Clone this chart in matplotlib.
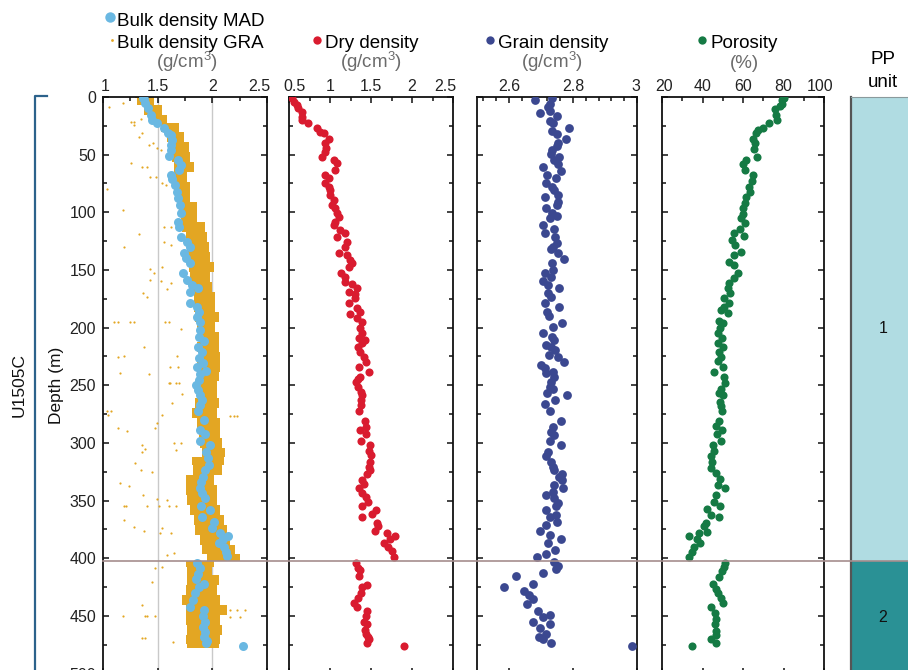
import numpy as np
import matplotlib.pyplot as plt
from matplotlib.lines import Line2D
from matplotlib.ticker import MultipleLocator, FuncFormatter
from matplotlib.transforms import blended_transform_factory, ScaledTranslation

plt.rcParams['font.family'] = ['Liberation Sans', 'DejaVu Sans']
plt.rcParams['mathtext.fontset'] = 'custom'
plt.rcParams['mathtext.rm'] = 'Liberation Sans'
plt.rcParams['mathtext.default'] = 'regular'

# bulk density, MAD (g/cm3)
mad_depth = [0.5, 2.0, 5.5, 9.8, 15.6, 19.9, 22.8, 27.2, 30.9, 33.0,
             37.3, 41.6, 46.0, 51.2, 54.6, 59.0, 63.3, 67.6, 71.4, 76.3,
             82.1, 87.9, 93.7, 100.9, 108.1, 112.5, 121.1, 125.5, 129.8, 135.0,
             139.9, 144.3, 152.4, 158.7, 163.1, 166.0, 168.8, 178.9, 181.8, 186.2,
             190.5, 194.9, 202.1, 208.4, 211.3, 216.5, 220.9, 226.7, 231.0, 234.5,
             237.3, 240.2, 245.5,
             249.7, 254.1, 258.4, 262.7, 267.1, 272.0, 280.1, 288.8, 292.2, 298.0,
             301.8, 307.6, 313.3, 319.1, 323.5, 329.2, 333.6, 339.4, 343.7, 348.0,
             354.7, 358.1, 364.5, 368.3, 374.1, 377.8, 380.7, 383.6, 387.1, 390.0,
             394.3, 398.0, 403.8, 408.7, 413.7, 418.3, 422.3, 425.2, 430.4, 436.2,
             442.0, 444.9, 450.1, 455.0, 459.3, 463.7, 468.0, 471.5, 473.8, 475.8]
mad_bulk = [1.37, 1.376, 1.382, 1.412, 1.436, 1.452, 1.497, 1.558, 1.594, 1.618,
            1.633, 1.624, 1.618, 1.603, 1.685, 1.709, 1.694, 1.624, 1.633, 1.655,
            1.673, 1.685, 1.703, 1.715, 1.685, 1.694, 1.709, 1.77, 1.8, 1.739,
            1.755, 1.8, 1.733, 1.764, 1.815, 1.867, 1.8, 1.794, 1.861, 1.876,
            1.861, 1.891, 1.885, 1.876, 1.921, 1.867, 1.906, 1.876, 1.915, 1.861,
            1.946, 1.891, 1.876,
            1.855, 1.867, 1.891, 1.906, 1.885, 1.867, 1.921, 1.885, 1.936, 1.891,
            1.976, 1.945, 1.958, 1.967, 1.936, 1.915, 1.897, 1.885, 1.906, 1.936,
            1.897, 1.982, 1.906, 2.012, 1.997, 2.073, 2.139, 2.097, 2.058, 2.103,
            2.127, 2.133, 1.861, 1.885, 1.867, 1.855, 1.921, 1.876, 1.845, 1.824,
            1.8, 1.927, 1.915, 1.936, 1.915, 1.936, 1.927, 1.952, 1.945, 2.285]

# bulk density, GRA: extent of the dense record with depth
gra_depth = [0, 2.6, 11.3, 19.9, 25.7, 34.4, 43.1, 51.7, 60.4, 69.1,
             77.8, 86.4, 95.1, 103.8, 112.5, 121.1, 129.8, 138.5, 147.2, 155.8,
             164.5, 173.2, 181.8, 190.5, 199.2, 207.9, 216.5, 225.2, 233.9, 242.6,
             249.7, 257.0, 265.6, 274.3, 283.0, 291.7, 300.3, 309.0, 314.8, 323.5,
             332.1, 340.8, 349.5, 358.1, 366.8, 375.5, 384.2, 392.8, 400.1, 404.4,
             410.2, 418.9, 427.5, 436.2, 444.9, 453.6, 462.2, 470.9, 478.0]
gra_lo = [1.29, 1.315, 1.376, 1.436, 1.527, 1.588, 1.618, 1.633, 1.649, 1.618,
          1.649, 1.679, 1.694, 1.709, 1.724, 1.755, 1.77, 1.77, 1.785, 1.8,
          1.815, 1.83, 1.83, 1.845, 1.861, 1.876, 1.861, 1.876, 1.861, 1.861,
          1.845, 1.861, 1.845, 1.815, 1.861, 1.876, 1.891, 1.906, 1.815, 1.824,
          1.755, 1.755, 1.77, 1.8, 1.83, 1.845, 1.891, 1.906, 1.952, 1.755,
          1.77, 1.77, 1.755, 1.724, 1.755, 1.755, 1.77, 1.755, 1.77]
gra_hi = [1.47, 1.467, 1.542, 1.588, 1.694, 1.739, 1.785, 1.8, 1.83, 1.77,
          1.8, 1.8, 1.861, 1.861, 1.936, 1.952, 1.967, 1.982, 2.012, 1.982,
          1.997, 2.027, 2.027, 2.058, 2.027, 2.058, 2.058, 2.073, 2.073, 2.058,
          2.042, 2.042, 2.058, 2.042, 2.073, 2.073, 2.088, 2.118, 2.103, 2.088,
          2.012, 2.042, 2.042, 2.073, 2.103, 2.133, 2.164, 2.209, 2.255, 2.012,
          1.997, 2.058, 2.042, 2.073, 2.133, 2.073, 2.088, 2.073, 2.058]
# scattered GRA readings off the main trend
gra_pt_depth = [8.4, 4.9, 21.4, 21.4, 24.3, 19.4, 31.5, 35.0, 41.6, 40.2,
                44.5, 46.0, 57.0, 60.4, 60.4, 69.7, 69.7, 79.8, 74.3, 76.3,
                98.0, 112.5, 112.5, 118.8, 125.5, 128.4, 129.8, 147.2, 149.5, 152.4,
                158.7, 159.3, 161.0, 169.7, 173.7, 166.8, 194.9, 194.9, 194.9, 194.9,
                194.9, 194.9, 201.5, 217.1, 225.8, 224.6, 224.6, 239.1, 240.2, 233.9,
                234.5, 248.3, 248.3, 272.0, 272.0, 275.8, 287.3, 289.3, 275.8, 265.1,
                257.5, 248.3, 248.3, 283.0, 287.3, 299.8, 299.8, 306.1, 301.8, 307.6,
                305.6, 317.1, 323.5, 325.5, 335.0, 337.3, 345.1, 348.9, 349.5, 354.7,
                354.7, 354.7, 354.7, 354.7, 354.7, 366.8, 372.6, 376.1, 378.4, 374.1,
                378.4, 397.2, 395.7, 408.7, 407.3, 420.3, 440.5, 450.1, 450.1, 450.1,
                450.1, 469.5, 469.5, 472.3, 444.9, 444.9, 444.9, 451.2, 451.2, 277.0,
                277.0, 277.0]
gra_pt_bulk = [1.058, 1.179, 1.255, 1.279, 1.285, 1.345, 1.361, 1.33, 1.421, 1.461,
               1.497, 1.527, 1.255, 1.361, 1.406, 1.43, 1.482, 1.036, 1.543, 1.573,
               1.179, 1.558, 1.618, 1.33, 1.558, 1.618, 1.194, 1.543, 1.43, 1.467,
               1.43, 1.527, 1.618, 1.37, 1.40, 1.588, 1.103, 1.133, 1.249, 1.285,
               1.564, 1.603, 1.715, 1.376, 1.133, 1.194, 1.679, 1.158, 1.421, 1.612,
               1.685, 1.612, 1.664, 1.036, 1.073, 1.042, 1.133, 1.218, 1.542, 1.633,
               1.724, 1.603, 1.694, 1.497, 1.473, 1.648, 1.709, 1.664, 1.36, 1.36,
               1.382, 1.294, 1.345, 1.452, 1.158, 1.24, 1.37, 1.497, 1.588, 1.194,
               1.209, 1.406, 1.512, 1.603, 1.664, 1.194, 1.285, 1.376, 1.521, 1.543,
               1.624, 1.582, 1.648, 1.473, 1.543, 1.452, 1.36, 1.382, 1.406, 1.473,
               1.179, 1.36, 1.382, 1.642, 2.164, 2.224, 2.30, 2.164, 2.255, 2.164,
               2.194, 2.224]

# dry density (g/cm3)
dry_depth = [1.0, 4.0, 6.9, 9.8, 12.7, 17.1, 19.9, 22.8, 27.2, 30.1,
             31.5, 36.7, 40.2, 44.5, 47.4, 51.7, 54.6, 57.5, 63.3, 67.6,
             70.5, 74.9, 77.8, 80.7, 85.0, 89.3, 93.7, 96.6, 100.9, 103.8,
             108.1, 111.0, 115.4, 118.2, 121.1, 125.5, 129.8, 135.0, 137.0, 141.4,
             143.7, 147.2, 152.9, 155.8, 160.2, 162.2, 166.0, 168.8, 170.9, 174.6,
             178.9, 183.3, 186.2, 188.2, 191.9, 194.9, 200.6, 205.0, 209.3, 210.8,
             213.6, 216.5, 220.9, 225.2, 229.5, 233.9, 238.2, 242.6, 244.9,
             246.8, 251.2, 255.5, 258.4, 262.7, 267.1, 272.0, 280.7, 285.9, 288.8,
             292.2, 298.0, 301.8, 306.7, 310.4, 316.2, 320.6, 323.5, 326.9, 332.1,
             335.6, 339.4, 343.7, 346.6, 350.9, 354.7, 358.1, 361.9, 364.5, 369.1,
             372.0, 376.1, 377.8, 380.4, 383.6, 387.1, 390.0, 393.4, 398.6, 403.8,
             408.7, 410.2, 415.4, 422.9, 424.6, 429.8, 434.8, 439.1, 442.6, 445.5,
             450.1, 455.0, 457.0, 462.2, 465.7, 468.0, 470.3, 473.8, 475.8]
dry_dens = [0.54, 0.566, 0.594, 0.615, 0.655, 0.664, 0.655, 0.737, 0.84, 0.88,
            0.921, 0.983, 0.942, 0.95, 0.942, 0.90, 1.044, 1.085, 1.056, 0.942,
            0.983, 0.942, 0.983, 1.003, 1.003, 1.044, 1.024, 1.065, 1.085, 1.105,
            1.065, 1.044, 1.126, 1.179, 1.085, 1.208, 1.187, 1.105, 1.208, 1.249,
            1.269, 1.228, 1.138, 1.179, 1.187, 1.269, 1.33, 1.236, 1.31, 1.31,
            1.228, 1.33, 1.371, 1.249, 1.33, 1.392, 1.371, 1.392, 1.351, 1.424,
            1.392, 1.343, 1.371, 1.412, 1.433, 1.351, 1.474, 1.371, 1.343,
            1.32, 1.339, 1.372, 1.392, 1.384, 1.372, 1.351, 1.421, 1.433, 1.363,
            1.437, 1.38, 1.486, 1.474, 1.494, 1.486, 1.474, 1.486, 1.453, 1.392,
            1.412, 1.351, 1.392, 1.433, 1.462, 1.392, 1.556, 1.515, 1.392, 1.576,
            1.584, 1.543, 1.691, 1.789, 1.732, 1.658, 1.707, 1.76, 1.781, 1.323,
            1.339, 1.363, 1.351, 1.453, 1.392, 1.372, 1.339, 1.298, 1.331, 1.453,
            1.433, 1.412, 1.453, 1.421, 1.433, 1.462, 1.474, 1.453, 1.903]

# grain density (g/cm3)
grain_depth = [0.5, 2.6, 6.1, 9.0, 11.9, 13.6, 16.5, 20.5, 22.8, 27.2,
               29.2, 32.1, 36.7, 39.6, 42.5, 46.0, 49.4, 51.7, 54.6, 58.1,
               61.0, 63.9, 67.6, 70.5, 74.9, 77.8, 80.7, 85.0, 87.0, 90.8,
               93.7, 96.6, 100.3, 103.2, 105.2, 111.0, 114.8, 118.2, 121.1, 126.9,
               129.8, 132.1, 135.0, 140.8, 144.3, 150.0, 152.9, 156.4, 159.3, 163.1,
               166.0, 169.7, 173.7, 178.9, 182.4, 186.2, 189.9, 195.7, 199.2, 205.0,
               207.9, 210.8, 215.1, 216.5, 219.4, 223.8, 225.2, 229.5, 232.4, 235.3,
               238.2, 239.7, 242.6,
               246.8, 251.2, 253.5, 257.0, 258.4, 262.7, 266.2, 272.0, 280.7, 285.9,
               290.2, 293.1, 298.0, 301.8, 307.6, 311.3, 316.2, 320.6, 323.5, 326.9,
               329.2, 332.1, 336.5, 339.4, 342.2, 345.1, 348.0, 351.8, 354.7, 358.1,
               364.5, 362.5, 368.3, 371.2, 376.1, 379.8, 383.6, 387.1, 392.8, 396.3,
               398.6, 403.0, 406.7, 409.6, 412.5, 415.4, 422.3, 425.2, 428.1, 431.9,
               435.6, 439.7, 445.5, 449.2, 451.2, 455.0, 457.0, 460.8, 465.7, 468.6,
               470.3, 473.8, 475.8]
grain_dens = [2.733, 2.68, 2.728, 2.722, 2.728, 2.696, 2.749, 2.728, 2.738, 2.786,
              2.733, 2.749, 2.777, 2.754, 2.749, 2.733, 2.731, 2.756, 2.741, 2.752,
              2.707, 2.763, 2.72, 2.746, 2.717, 2.733, 2.741, 2.752, 2.714, 2.754,
              2.749, 2.717, 2.733, 2.749, 2.728, 2.707, 2.741, 2.714, 2.744, 2.749,
              2.738, 2.731, 2.752, 2.773, 2.733, 2.738, 2.712, 2.731, 2.707, 2.722,
              2.756, 2.722, 2.731, 2.714, 2.756, 2.72, 2.725, 2.765, 2.738, 2.707,
              2.733, 2.741, 2.717, 2.731, 2.744, 2.725, 2.754, 2.773, 2.701, 2.714,
              2.738, 2.717, 2.741,
              2.732, 2.729, 2.736, 2.719, 2.78, 2.743, 2.711, 2.727, 2.764, 2.738,
              2.732, 2.74, 2.727, 2.764, 2.722, 2.717, 2.732, 2.736, 2.74, 2.767,
              2.757, 2.767, 2.74, 2.769, 2.738, 2.717, 2.74, 2.754, 2.746, 2.717,
              2.727, 2.748, 2.75, 2.717, 2.698, 2.729, 2.764, 2.722, 2.743, 2.717,
              2.687, 2.74, 2.754, 2.748, 2.706, 2.623, 2.674, 2.584, 2.648, 2.664,
              2.676, 2.655, 2.69, 2.729, 2.706, 2.676, 2.729, 2.698, 2.717, 2.695,
              2.706, 2.732, 2.984]

# porosity (%)
por_depth = [0.5, 2.6, 6.1, 7.8, 10.7, 15.6, 19.9, 22.8, 27.2, 28.6,
             31.5, 36.7, 40.2, 45.4, 51.7, 54.6, 58.1, 63.3, 67.6, 72.6,
             77.8, 82.1, 86.4, 92.2, 96.6, 101.5, 105.2, 109.6, 114.8, 117.7,
             120.6, 124.0, 128.4, 134.1, 137.0, 142.8, 145.7, 152.4, 157.3, 161.6,
             166.0, 170.3, 174.6, 179.0, 181.8, 184.7, 187.6, 194.0, 196.3, 200.6,
             205.0, 209.3, 213.6, 216.5, 220.9, 225.2, 228.7, 233.9, 238.2, 243.1,
             248.3, 253.5, 257.0, 258.4, 264.2, 268.0, 272.0, 280.7, 285.3, 288.8,
             292.2, 298.0, 301.8, 306.7, 311.3, 316.2, 322.0, 326.3, 331.6, 336.5,
             339.4, 345.1, 350.9, 354.7, 357.6, 362.5, 364.5, 369.7, 372.0, 376.9,
             377.8, 380.7, 383.6, 387.1, 390.0, 394.3, 398.6, 403.8, 407.3, 410.8,
             416.0, 422.3, 427.0, 430.4, 434.8, 439.1, 442.6, 447.8, 453.0, 457.0,
             462.8, 466.6, 470.3, 473.8, 475.8]
porosity = [80.0, 79.2, 79.5, 78.3, 75.8, 76.2, 76.7, 72.8, 70.0, 67.2,
            66.2, 65.0, 65.8, 65.5, 66.7, 61.7, 60.0, 61.2, 65.0, 64.5,
            62.8, 63.3, 61.7, 61.2, 60.0, 60.0, 58.8, 61.2, 58.3, 55.8,
            60.5, 54.5, 56.2, 58.8, 55.8, 53.3, 55.5, 57.5, 55.8, 53.3,
            52.8, 53.8, 50.8, 53.3, 50.8, 49.2, 52.5, 48.3, 50.0, 48.8,
            47.8, 49.5, 47.5, 50.0, 48.3, 49.2, 47.5, 50.0, 45.5, 50.8,
            51.0, 49.3, 48.2, 50.2, 48.5, 49.3, 49.8, 48.2, 46.8, 49.8,
            47.2, 49.3, 45.2, 45.5, 44.3, 44.8, 44.3, 46.5, 48.5, 47.7,
            51.0, 46.8, 45.5, 48.5, 42.2, 44.3, 48.2, 41.5, 40.5, 42.2,
            38.2, 33.5, 37.2, 38.8, 36.0, 34.8, 33.5, 51.0, 50.5, 49.8,
            48.2, 45.2, 46.5, 47.7, 49.3, 50.2, 44.3, 46.0, 46.5, 46.0,
            46.5, 46.8, 44.3, 46.5, 34.8]

# PP units
unit_names = ['1', '2']
unit_top = [0, 402]
unit_base = [402, 500]
unit_colors = ['#b0dce2', '#2a9195']
boundary = 402

W, H = 908, 670
fig = plt.figure(figsize=(W / 100, H / 100), dpi=100)


def fx(px):
    return px / W


def fy(py):
    return 1 - py / H


ax_bot = fy(673.5)
ax_h = fy(97) - ax_bot
fmt = FuncFormatter(lambda v, p: '%g' % round(v, 3))


def make_panel(x0, x1, xlim, ticks, minor):
    ax = fig.add_axes([fx(x0), ax_bot, fx(x1) - fx(x0), ax_h])
    ax.set_xlim(*xlim)
    ax.set_ylim(500, 0)
    ax.set_xticks(ticks)
    ax.xaxis.set_minor_locator(MultipleLocator(minor))
    ax.xaxis.set_major_formatter(fmt)
    ax.yaxis.set_major_locator(MultipleLocator(50))
    ax.yaxis.set_minor_locator(MultipleLocator(25))
    ax.tick_params(which='both', direction='in', top=True, bottom=True,
                   left=True, right=True, labeltop=True, labelbottom=False,
                   labelleft=False, width=1.1, color='#111111')
    ax.tick_params(which='major', length=4.5, labelsize=11.5,
                   labelcolor='#222222', pad=2.5)
    ax.tick_params(which='minor', length=2.8)
    for s in ax.spines.values():
        s.set_linewidth(1.3)
        s.set_color('#111111')
    return ax


def nudge_ends(ax, first_px, last_px):
    # keep the end labels inside the frame
    ticks = ax.xaxis.get_major_ticks()
    for tick, dx in ((ticks[0], first_px), (ticks[-1], last_px)):
        lab = tick.label2
        lab.set_transform(lab.get_transform() +
                          ScaledTranslation(dx / 100, 0, fig.dpi_scale_trans))


# bulk density
ax1 = make_panel(103, 267, (1, 2.5), [1, 1.5, 2, 2.5], 0.25)
ax1.tick_params(axis='y', which='major', labelleft=True, pad=5)
for g in (1.5, 2.0):
    ax1.axvline(g, color='#c9c9c9', lw=1.0, zorder=0)
ax1.fill_betweenx(gra_depth, gra_lo, gra_hi, step='mid', color='#e3a623',
                  lw=0, zorder=1)
ax1.scatter(gra_pt_bulk, gra_pt_depth, s=2.5, color='#e3a623', lw=0, zorder=1)
ax1.scatter(mad_bulk, mad_depth, s=42, color='#6ab8e2', lw=0, zorder=3)
nudge_ends(ax1, 2.5, -8)

# dry density
ax2 = make_panel(289, 453, (0.5, 2.5), [0.5, 1, 1.5, 2, 2.5], 0.25)
ax2.scatter(dry_dens, dry_depth, s=34, color='#d91b2f', lw=0, zorder=3)
nudge_ends(ax2, 5, -8)

# grain density
ax3 = make_panel(477, 637, (2.5, 3.0), [2.6, 2.8, 3.0], 0.04)
ax3.scatter(grain_dens, grain_depth, s=40, color='#3b4890', lw=0, zorder=3)
nudge_ends(ax3, 0, -1.5)

# porosity
ax4 = make_panel(662, 824, (20, 100), [20, 40, 60, 80, 100], 10)
ax4.scatter(porosity, por_depth, s=34, color='#157a44', lw=0, zorder=3)
nudge_ends(ax4, 2, -4)

# PP unit column
ax5 = fig.add_axes([fx(851), ax_bot, fx(915) - fx(851), ax_h])
ax5.set_xlim(0, 1)
ax5.set_ylim(500, 0)
for name, top, base, col in zip(unit_names, unit_top, unit_base, unit_colors):
    ax5.axhspan(top, base, color=col, lw=0)
    ax5.text(0.5, (top + base) / 2, name, ha='center', va='center',
             fontsize=11.5, color='#111111')
ax5.set_xticks([])
ax5.set_yticks([])
for side in ('right', 'bottom'):
    ax5.spines[side].set_visible(False)
ax5.spines['left'].set_color('#555555')
ax5.spines['left'].set_linewidth(1.6)
ax5.spines['top'].set_color('#8a9a9c')
ax5.spines['top'].set_linewidth(0.8)

# unit boundary across all panels
tr = blended_transform_factory(fig.transFigure, ax1.transData)
fig.add_artist(Line2D([fx(103), 1.0], [boundary, boundary], transform=tr,
                      color='#a58d8d', lw=1.2))

# hole bracket
fig.add_artist(Line2D([fx(47), fx(35), fx(35)], [fy(96), fy(96), fy(680)],
                      transform=fig.transFigure, color='#2c628b', lw=1.6))
fig.text(fx(19), fy(385), 'U1505C', rotation=90, ha='center', va='center',
         fontsize=12.5, color='#111111')
fig.text(fx(56), fy(385), 'Depth (m)', rotation=90, ha='center', va='center',
         fontsize=12.5, color='#111111')

# column headings
unit_gray = '#6b6b6b'


def dot(x, y, color, size):
    fig.add_artist(Line2D([fx(x)], [fy(y)], transform=fig.transFigure,
                          marker='o', ms=size, mew=0, color=color, ls='none'))


dot(110, 17, '#6ab8e2', 7.5)
fig.text(fx(117), fy(26), 'Bulk density MAD', fontsize=13.5, va='baseline')
dot(112, 39.5, '#e3a623', 2.0)
fig.text(fx(117), fy(48), 'Bulk density GRA', fontsize=13.5, va='baseline')
fig.text(fx(187), fy(68), '(g/cm$^3$)', fontsize=13.5, va='baseline',
         ha='center', color=unit_gray)

dot(317, 40, '#d91b2f', 6.0)
fig.text(fx(325), fy(48), 'Dry density', fontsize=13.5, va='baseline')
fig.text(fx(371), fy(68), '(g/cm$^3$)', fontsize=13.5, va='baseline',
         ha='center', color=unit_gray)

dot(490, 40, '#3b4890', 6.0)
fig.text(fx(498), fy(48), 'Grain density', fontsize=13.5, va='baseline')
fig.text(fx(552), fy(68), '(g/cm$^3$)', fontsize=13.5, va='baseline',
         ha='center', color=unit_gray)

dot(702, 40, '#157a44', 6.0)
fig.text(fx(710), fy(48), 'Porosity', fontsize=13.5, va='baseline')
fig.text(fx(744), fy(68), '(%)', fontsize=13.5, va='baseline',
         ha='center', color=unit_gray)

fig.text(fx(883), fy(64), 'PP', fontsize=13.5, va='baseline', ha='center')
fig.text(fx(883), fy(87), 'unit', fontsize=13.5, va='baseline', ha='center')

fig.savefig('out.png', dpi=100)
